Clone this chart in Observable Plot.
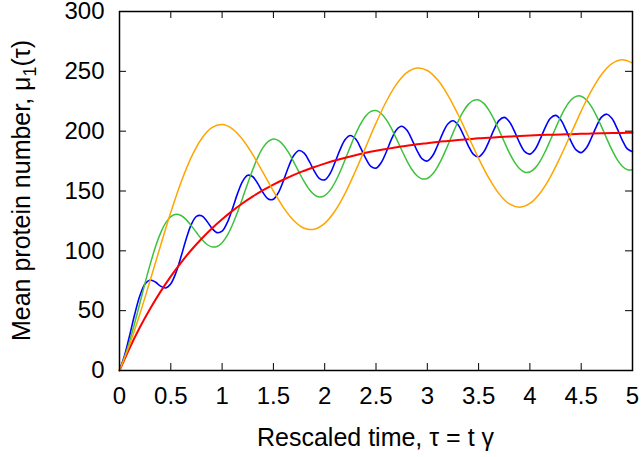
<!DOCTYPE html>
<html><head><meta charset="utf-8">
<script src="https://cdn.jsdelivr.net/npm/d3@7"></script>
<script src="https://cdn.jsdelivr.net/npm/@observablehq/plot@0.6"></script>
<style>
body{margin:0;background:#fff;}
#chart svg{display:block;overflow:visible;}
</style>
</head><body><div id="chart"></div>
<script>
const tauFine = [0,0.05,0.1,0.15,0.2,0.25,0.3,0.35,0.4,0.45,0.5,0.55,0.6,0.65,0.7,0.75,0.8,0.85,0.9,0.95,
1,1.05,1.1,1.15,1.2,1.25,1.3,1.35,1.4,1.45,1.5,1.55,1.6,1.65,1.7,1.75,1.8,1.85,1.9,1.95,
2,2.05,2.1,2.15,2.2,2.25,2.3,2.35,2.4,2.45,2.5,2.55,2.6,2.65,2.7,2.75,2.8,2.85,2.9,2.95,
3,3.05,3.1,3.15,3.2,3.25,3.3,3.35,3.4,3.45,3.5,3.55,3.6,3.65,3.7,3.75,3.8,3.85,3.9,3.95,
4,4.05,4.1,4.15,4.2,4.25,4.3,4.35,4.4,4.45,4.5,4.55,4.6,4.65,4.7,4.75,4.8,4.85,4.9,4.95,5];
const tauCoarse = [0,0.1,0.2,0.3,0.4,0.5,0.6,0.7,0.8,0.9,1,1.1,1.2,1.3,1.4,1.5,1.6,1.7,1.8,1.9,
2,2.1,2.2,2.3,2.4,2.5,2.6,2.7,2.8,2.9,3,3.1,3.2,3.3,3.4,3.5,3.6,3.7,3.8,3.9,
4,4.1,4.2,4.3,4.4,4.5,4.6,4.7,4.8,4.9,5];

// blue: fast oscillation (period 0.5)
const blueMu = [0,12.7,29.7,47.6,62.8,72.4,75.6,73.9,70.5,69.0,
72.5,81.7,95.2,109.9,122.1,128.8,129.3,125.0,119.0,115.2,
116.4,123.5,135.0,147.8,158.1,163.1,161.9,155.9,148.5,143.3,
143.1,148.9,159.1,170.7,179.9,183.8,181.6,174.7,166.4,160.3,
159.3,164.2,173.8,184.6,193.1,196.4,193.6,186.1,177.2,170.6,
169.1,173.6,182.6,193.1,201.2,204.1,200.9,193.0,183.8,176.8,
175.0,179.2,188.0,198.2,206.0,208.7,205.3,197.2,187.8,180.6,
178.6,182.7,191.3,201.3,209.0,211.5,207.9,199.8,190.2,182.9,
180.8,184.7,193.3,203.2,210.8,213.2,209.6,201.3,191.7,184.3,
182.1,186.0,194.5,204.3,211.9,214.2,210.5,202.3,192.6,185.2,
182.9];
// green: period 1
const greenMu = [0,11.3,24.9,40.3,56.8,73.4,89.1,103.2,114.8,123.3,
128.6,130.5,129.5,126.1,121.0,115.3,109.8,105.5,103.3,103.6,
106.8,112.9,121.6,132.3,144.2,156.5,168.2,178.5,186.4,191.4,
193.4,192.1,188.1,181.8,174.0,165.7,157.8,151.2,146.7,144.9,
146.1,150.3,157.1,166.1,176.4,187.1,197.4,206.1,212.7,216.5,
217.2,214.8,209.7,202.3,193.5,184.3,175.4,168.0,162.7,160.1,
160.5,164.0,170.2,178.5,188.2,198.4,208.1,216.3,222.4,225.7,
226.0,223.2,217.6,209.9,200.7,191.1,181.9,174.2,168.6,165.7,
165.9,169.1,175.0,183.1,192.6,202.5,212.0,220.1,226.0,229.1,
229.2,226.2,220.5,212.6,203.4,193.6,184.3,176.4,170.7,167.8,
167.8];
// orange: period 2
const orangeMu = [0,22.0,47.6,75.6,104.3,132.2,157.3,178.3,193.7,202.9,
205.5,202.0,193.1,180.3,165.3,149.9,135.9,125.2,118.9,118.1,
123.0,133.3,148.3,166.7,186.7,206.7,224.8,239.3,248.9,252.8,
250.7,242.9,230.2,213.9,195.6,177.3,160.8,147.6,139.2,136.5,
139.6,148.4,161.9,179.0,197.9,216.8,233.9,247.6,256.4,259.6,
256.8];
// red: constant rate
const redMu = [0,19.0,36.3,51.8,65.9,78.7,90.2,100.7,110.1,118.7,
126.4,133.4,139.8,145.5,150.7,155.4,159.6,163.5,166.9,170.1,
172.9,175.5,177.8,179.9,181.9,183.6,185.1,186.6,187.8,189.0,
190.0,191.0,191.8,192.6,193.3,194.0,194.5,195.1,195.5,196.0,
196.3,196.7,197.0,197.3,197.5,197.8,198.0,198.2,198.4,198.5,
198.7];

const xTicks = [0,0.5,1,1.5,2,2.5,3,3.5,4,4.5,5];
const xTickLabels = ["0","0.5","1","1.5","2","2.5","3","3.5","4","4.5","5"];
const yTicks = [0,50,100,150,200,250,300];
const yTickLabels = ["0","50","100","150","200","250","300"];
const xTitle = "Rescaled time, \u03C4 = t \u03B3";
const yTitleParts = ["Mean protein number, \u03BC", "1", "(\u03C4)"];

const W = 643, H = 457, mL = 119, mR = 11, mT = 11, mB = 87;
const innerH = H - mT - mB, innerW = W - mL - mR, tk = 7;
const FONT = "'Liberation Sans', Arial, Helvetica, sans-serif";

const series = [
  {tau: tauFine, mu: blueMu, color: "#0000ff", w: 1.6},
  {tau: tauFine, mu: greenMu, color: "#3cc23c", w: 1.5},
  {tau: tauCoarse, mu: redMu, color: "#ff0000", w: 2},
  {tau: tauCoarse, mu: orangeMu, color: "#ffa500", w: 1.5}
];

const lineMarks = series.map(s => Plot.line(s.tau.map((t, i) => ({t, mu: s.mu[i]})),
  {x: "t", y: "mu", stroke: s.color, strokeWidth: s.w, curve: "catmull-rom"}));

const svg = Plot.plot({
  width: W, height: H,
  marginLeft: mL, marginRight: mR, marginTop: mT, marginBottom: mB,
  style: {fontFamily: FONT, fontSize: "24px", color: "black", background: "white", overflow: "visible"},
  x: {domain: [0, 5], ticks: xTicks, tickFormat: d => xTickLabels[xTicks.indexOf(d)], tickSize: 0, tickPadding: 16, label: null},
  y: {domain: [0, 300], ticks: yTicks, tickFormat: d => yTickLabels[yTicks.indexOf(d)], tickSize: 0, tickPadding: 15, label: null},
  marks: [
    ...lineMarks,
    Plot.ruleX(xTicks, {x: d => d, insetTop: innerH - tk, stroke: "black", strokeWidth: 1}),
    Plot.ruleX(xTicks, {x: d => d, insetBottom: innerH - tk, stroke: "black", strokeWidth: 1}),
    Plot.ruleY(yTicks, {y: d => d, insetRight: innerW - tk, stroke: "black", strokeWidth: 1}),
    Plot.ruleY(yTicks, {y: d => d, insetLeft: innerW - tk, stroke: "black", strokeWidth: 1}),
    Plot.frame({stroke: "black", strokeWidth: 1.5})
  ]
});

const sel = d3.select(svg);
sel.append("text")
  .attr("x", mL + innerW / 2).attr("y", 446)
  .attr("text-anchor", "middle").attr("fill", "black")
  .style("font-family", FONT).style("font-size", "25px")
  .text(xTitle);
const yl = sel.append("text")
  .attr("transform", `translate(30,${mT + innerH / 2}) rotate(-90)`)
  .attr("text-anchor", "middle").attr("fill", "black")
  .style("font-family", FONT).style("font-size", "25px");
yl.append("tspan").text(yTitleParts[0]);
yl.append("tspan").attr("dy", 6).style("font-size", "18px").text(yTitleParts[1]);
yl.append("tspan").attr("dy", -6).text(yTitleParts[2]);

document.getElementById("chart").appendChild(svg);
</script>
</body></html>
